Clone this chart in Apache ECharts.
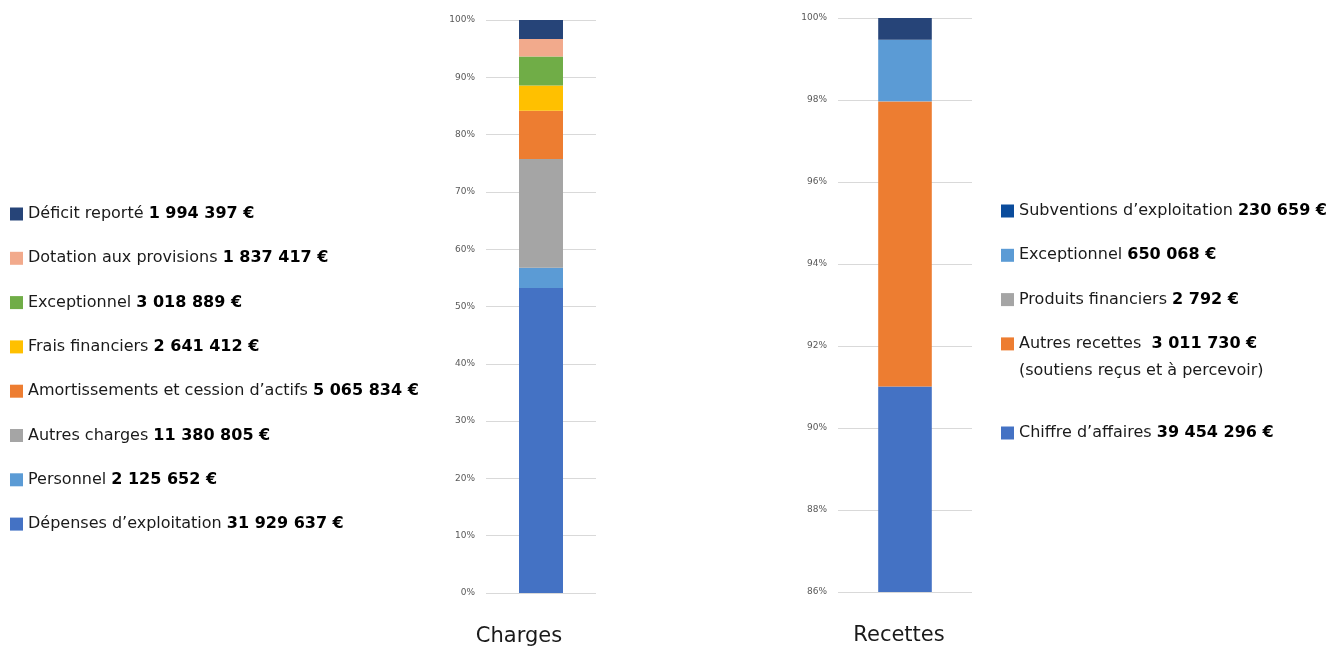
<!DOCTYPE html>
<html><head><meta charset="utf-8">
<script src="https://cdn.jsdelivr.net/npm/echarts@6/dist/echarts.min.js"></script>
<style>html,body{margin:0;padding:0;background:#fff}#c{width:1341px;height:650px}</style>
</head><body><div id="c"></div>
<script>
// ---- data ----
const chargeCategory = ['Charges'];
const chargeNames = ["Dépenses d’exploitation", "Personnel", "Autres charges", "Amortissements et cession d’actifs", "Frais financiers", "Exceptionnel", "Dotation aux provisions", "Déficit reporté"];
const chargeValues = [31929637, 2125652, 11380805, 5065834, 2641412, 3018889, 1837417, 1994397];
const chargeColors = ['#4472C4', '#5B9BD5', '#A5A5A5', '#ED7D31', '#FFC000', '#70AD47', '#F2AA8C', '#264478'];

const recetteCategory = ['Recettes'];
const recetteNames = ["Chiffre d’affaires", "Autres recettes ", "Produits financiers", "Exceptionnel", "Subventions d’exploitation"];
const recetteValues = [39454296, 3011730, 2792, 650068, 230659];
const recetteColors = ['#4472C4', '#ED7D31', '#A5A5A5', '#5B9BD5', '#264478'];
const recetteLegendColors = ['#4472C4', '#ED7D31', '#A5A5A5', '#5B9BD5', '#0B4C9C'];
const recetteNote = '(soutiens reçus et à percevoir)';

const chargeTicks = {min: 0, max: 100, interval: 10};
const recetteTicks = {min: 86, max: 100, interval: 2};

// ---- helpers ----
const FONT = 'DejaVu Sans';
function fmt(v) { return String(v).replace(/\B(?=(\d{3})+(?!\d))/g, ' ') + ' €'; }
function shares(vals) { const s = vals.reduce((a, b) => a + b, 0); return vals.map(v => v / s * 100); }
const chargePct = shares(chargeValues);
const recettePct = shares(recetteValues);

const labelMap = {};
const series = [];
chargeNames.forEach((n, i) => {
  const id = 'c' + i;
  labelMap[id] = '{n|' + n + ' }{b|' + fmt(chargeValues[i]) + '}';
  series.push({name: id, type: 'bar', stack: 'c', xAxisIndex: 0, yAxisIndex: 0, barWidth: '40%',
    itemStyle: {color: chargeColors[i]}, data: [chargePct[i]]});
});
recetteNames.forEach((n, i) => {
  const id = 'r' + i;
  labelMap[id] = '{n|' + n + ' }{b|' + fmt(recetteValues[i]) + '}';
  series.push({name: id, type: 'bar', stack: 'r', xAxisIndex: 1, yAxisIndex: 1, barWidth: '40%',
    itemStyle: {color: recetteColors[i]}, data: [recettePct[i]]});
});

const rich = {
  n: {fontFamily: FONT, fontSize: 16, color: '#1a1a1a', lineHeight: 20},
  b: {fontFamily: FONT, fontSize: 16, fontWeight: 'bold', color: '#000', lineHeight: 20}
};
const legendBase = {orient: 'vertical', icon: 'rect', itemWidth: 13, itemHeight: 13, itemGap: 28.3,
  padding: 0, itemTextGap: 5,
  selectedMode: false, formatter: n => labelMap[n], textStyle: {rich: rich}};

const chargeLegendData = chargeNames.map((n, i) => ({name: 'c' + i})).reverse();
const rLeg = recetteNames.map((n, i) => ({name: 'r' + i, itemStyle: {color: recetteLegendColors[i]}})).reverse();

function yAxis(idx, t) {
  return {type: 'value', gridIndex: idx, min: t.min, max: t.max, interval: t.interval,
    axisLine: {show: false}, axisTick: {show: false},
    splitLine: {lineStyle: {color: '#D9D9D9', width: 1}},
    axisLabel: {formatter: '{value}%', fontFamily: FONT, fontSize: 9, color: '#595959', margin: 11}};
}
function xAxis(idx, cats, shift) {
  return {type: 'category', gridIndex: idx, data: cats, axisLine: {show: false}, axisTick: {show: false},
    axisLabel: {fontFamily: FONT, fontSize: 21, color: '#1a1a1a', margin: 33, padding: [0, shift, 0, 0]}};
}

const chart = echarts.init(document.getElementById('c'), null, {renderer: 'canvas'});
chart.setOption({
  animation: false,
  grid: [
    {left: 486, width: 110, top: 20, height: 573},
    {left: 838, width: 134, top: 18, height: 574}
  ],
  xAxis: [xAxis(0, chargeCategory, 44), xAxis(1, recetteCategory, 12)],
  yAxis: [yAxis(0, chargeTicks), yAxis(1, recetteTicks)],
  legend: [
    Object.assign({}, legendBase, {left: 10, top: 206, data: chargeLegendData}),
    Object.assign({}, legendBase, {left: 1001, top: 203, data: rLeg.slice(0, 4)}),
    Object.assign({}, legendBase, {left: 1001, top: 425, data: rLeg.slice(4)})
  ],
  graphic: [{type: 'text', left: 1019, top: 363,
    style: {text: recetteNote, fontFamily: FONT, fontSize: 16, fill: '#1a1a1a'}}],
  series: series
});
</script></body></html>
